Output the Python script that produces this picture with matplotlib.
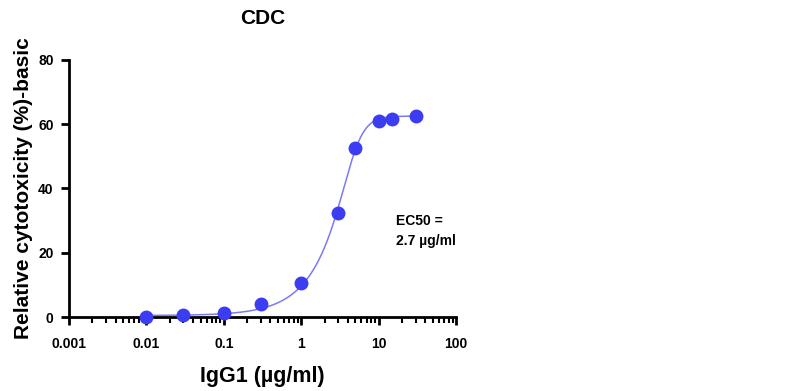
import numpy as np
import matplotlib
matplotlib.use("Agg")
from matplotlib import pyplot as plt
from matplotlib.ticker import LogLocator, FixedLocator, NullFormatter

plt.rcParams['font.family'] = ['Liberation Sans', 'DejaVu Sans']
plt.rcParams['font.weight'] = 'bold'

# measured points
conc = [0.01, 0.03, 0.1, 0.3, 1, 3, 5, 10, 15, 30]
cytotox = [0.1, 0.7, 1.2, 4.0, 10.6, 32.4, 52.6, 61.0, 61.5, 62.6]

x_ticks = [0.001, 0.01, 0.1, 1, 10, 100]
x_ticklabels = ['0.001', '0.01', '0.1', '1', '10', '100']
y_ticks = [0, 20, 40, 60, 80]

# asymmetric sigmoid fit (5PL) parameters
bottom, top, c_mid, hill, asym = 0.5, 62.5, 4.81, 4.05, 0.3

xfit = np.logspace(np.log10(conc[0]), np.log10(conc[-1]), 300)
yfit = bottom + (top - bottom) / (1 + (xfit / c_mid) ** (-hill)) ** asym

fig = plt.figure(figsize=(7.97, 3.91), dpi=100)
ax = fig.add_axes([0.0866, 0.189, 0.4856, 0.658])

ax.plot(xfit, yfit, color='#7b7bf0', lw=1.1, zorder=2)
ax.plot(conc, cytotox, 'o', color='#3c3cf2', ms=9, mec='#3c3cf2', zorder=3, clip_on=False)

ax.set_xscale('log')
ax.set_xlim(0.001, 100)
ax.set_ylim(0, 80)
ax.xaxis.set_major_locator(FixedLocator(x_ticks))
ax.set_xticklabels(x_ticklabels)
ax.xaxis.set_minor_locator(LogLocator(base=10, subs=np.arange(2, 10)))
ax.xaxis.set_minor_formatter(NullFormatter())
ax.set_yticks(y_ticks)

for s in ['top', 'right']:
    ax.spines[s].set_visible(False)
for s in ['left', 'bottom']:
    ax.spines[s].set_linewidth(2)

ax.tick_params(which='major', length=6, width=2, labelsize=10, pad=5)
ax.tick_params(axis='x', which='major', pad=8)
ax.tick_params(which='minor', length=4, width=1.5)
for lab in ax.get_xticklabels() + ax.get_yticklabels():
    lab.set_fontweight('bold')

ax.set_xlabel('IgG1 (\u00b5g/ml)', fontsize=15.5, fontweight='bold', labelpad=11)
ax.set_ylabel('Relative cytotoxicity (%)-basic', fontsize=15, fontweight='bold', labelpad=4)
ax.set_title('CDC', fontsize=15, fontweight='bold', pad=26)

ax.text(0.845, 0.335, 'EC50 =\n2.7 \u00b5g/ml', transform=ax.transAxes,
        fontsize=10, fontweight='bold', va='center', ha='left', linespacing=1.5)

fig.savefig('out.png', dpi=100)
